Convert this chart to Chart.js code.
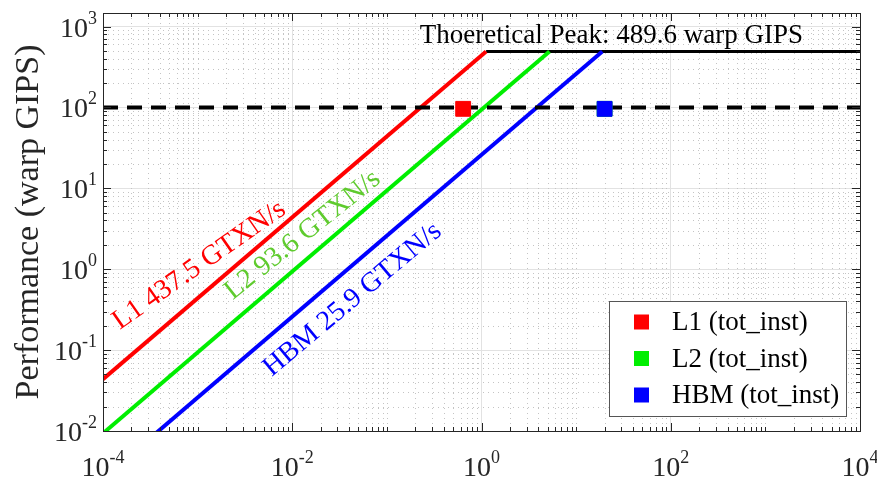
<!DOCTYPE html>
<html lang="en">
<head>
<meta charset="UTF-8" />
<title>Instruction Roofline</title>
<style>
  html, body { margin: 0; padding: 0; background: #fff; }
  #wrap { width: 877px; height: 484px; }
</style>
</head>
<body>
<div id="wrap"><canvas id="roofline" width="877" height="484"></canvas></div>
<script src="https://cdn.jsdelivr.net/npm/chart.js"></script>
<script>
// memory ceilings
const memLevels = ['L1', 'L2', 'HBM'];
const bandwidths = [437.5, 93.6, 25.9];          // GTXN/s
const roofColors = ['#ff0000', '#00ee00', '#0000ff'];
const labelColors = ['#ff0000', '#5fcb2e', '#0000ff'];
const peakGips = 489.6;
const refGips = 100;                               // dashed reference line

// measured kernel (tot_inst), L2 sits under the HBM marker
const pointIntensity = [0.64, 20, 20];
const pointGips = [96, 96, 96];

// axes
const xRange = [1e-4, 1e4];
const yRange = [1e-2, 1468.8];
const xTickVals = [1e-4, 1e-2, 1, 1e2, 1e4];
const yTickVals = [1e-2, 1e-1, 1, 1e1, 1e2, 1e3];

// annotation anchors (data coords) and text angles
const roofLabelAt = [[1.5e-4, 0.177], [2.35e-3, 0.414], [6.07e-3, 0.0465]];
const roofLabelAngle = [35, 38.5, 40];
const peakLabelAt = [0.223, 617];

const SERIF = "'Liberation Serif', 'Times New Roman', serif";
const INK = '#262626';

const datasets = [];
bandwidths.forEach((bw, i) => {
  datasets.push({
    label: memLevels[i] + ' roof',
    data: [{x: xRange[0], y: bw * xRange[0]}, {x: peakGips / bw, y: peakGips}],
    showLine: true, borderColor: roofColors[i], borderWidth: 4,
    pointRadius: 0, order: 3
  });
});
datasets.push({
  label: 'peak',
  data: [{x: peakGips / Math.max(...bandwidths), y: peakGips}, {x: xRange[1], y: peakGips}],
  showLine: true, borderColor: '#000', borderWidth: 3, pointRadius: 0, order: 3
});
datasets.push({
  label: 'ref',
  data: [{x: xRange[0], y: refGips}, {x: xRange[1], y: refGips}],
  showLine: true, borderColor: '#000', borderWidth: 4, borderDash: [15, 9],
  pointRadius: 0, order: 2
});
memLevels.forEach((m, i) => {
  datasets.push({
    label: m + ' (tot_inst)',
    data: [{x: pointIntensity[i], y: pointGips[i]}],
    showLine: false, pointStyle: 'rect', pointRadius: 10.5,
    backgroundColor: roofColors[i], borderColor: roofColors[i], borderWidth: 1,
    order: i === 1 ? 1 : 0
  });
});

function minorVals(range, majors) {
  const out = [];
  const lo = Math.floor(Math.log10(range[0])), hi = Math.ceil(Math.log10(range[1]));
  for (let d = lo; d <= hi; d++) {
    for (let k = 1; k <= 9; k++) {
      const v = k * Math.pow(10, d);
      if (v < range[0] * 0.999 || v > range[1] * 1.001) continue;
      if (majors.some(m => Math.abs(m - v) / m < 1e-6)) continue;
      out.push(v);
    }
  }
  return out;
}

function drawPow(ctx, exp, x, y, align) {
  // "10" with raised exponent
  const base = '10', sup = String(exp);
  ctx.font = '28px ' + SERIF;
  const wb = ctx.measureText(base).width;
  ctx.font = '18px ' + SERIF;
  const ws = ctx.measureText(sup).width;
  let left = align === 'right' ? x - wb - ws : x - (wb + ws) / 2;
  ctx.textAlign = 'left';
  ctx.textBaseline = 'alphabetic';
  ctx.font = '28px ' + SERIF;
  ctx.fillText(base, left, y);
  ctx.font = '18px ' + SERIF;
  ctx.fillText(sup, left + wb, y - 13);
}

const rooflinePlugin = {
  id: 'roofline',
  beforeDatasetsDraw(chart) {
    const {ctx, chartArea: a, scales: {x, y}} = chart;
    ctx.save();
    ctx.strokeStyle = '#c4c4c4';
    ctx.lineWidth = 1;
    ctx.setLineDash([1, 4]);
    minorVals(xRange, xTickVals).forEach(v => {
      const px = Math.round(x.getPixelForValue(v)) + 0.5;
      ctx.beginPath(); ctx.moveTo(px, a.top); ctx.lineTo(px, a.bottom); ctx.stroke();
    });
    minorVals(yRange, yTickVals).forEach(v => {
      const py = Math.round(y.getPixelForValue(v)) + 0.5;
      ctx.beginPath(); ctx.moveTo(a.left, py); ctx.lineTo(a.right, py); ctx.stroke();
    });
    ctx.restore();
  },
  afterDatasetsDraw(chart) {
    const {ctx, chartArea: a, scales: {x, y}} = chart;
    ctx.save();
    // box + inward ticks
    ctx.strokeStyle = INK;
    ctx.lineWidth = 1;
    ctx.strokeRect(Math.round(a.left) + 0.5, Math.round(a.top) + 0.5,
      Math.round(a.right - a.left), Math.round(a.bottom - a.top));
    const tick = (vals, len, horiz) => vals.forEach(v => {
      ctx.beginPath();
      if (horiz) {
        const px = Math.round(x.getPixelForValue(v)) + 0.5;
        ctx.moveTo(px, a.bottom); ctx.lineTo(px, a.bottom - len);
        ctx.moveTo(px, a.top); ctx.lineTo(px, a.top + len);
      } else {
        const py = Math.round(y.getPixelForValue(v)) + 0.5;
        ctx.moveTo(a.left, py); ctx.lineTo(a.left + len, py);
        ctx.moveTo(a.right, py); ctx.lineTo(a.right - len, py);
      }
      ctx.stroke();
    });
    tick(xTickVals, 8, true);
    tick(minorVals(xRange, xTickVals), 4, true);
    tick(yTickVals, 8, false);
    tick(minorVals(yRange, yTickVals), 4, false);

    // tick labels
    ctx.fillStyle = INK;
    xTickVals.forEach(v => drawPow(ctx, Math.round(Math.log10(v)), x.getPixelForValue(v), a.bottom + 45, 'center'));
    yTickVals.forEach(v => drawPow(ctx, Math.round(Math.log10(v)), a.left - 6, y.getPixelForValue(v) + 10, 'right'));

    // peak annotation
    ctx.fillStyle = '#000';
    ctx.font = '27px ' + SERIF;
    ctx.textAlign = 'left';
    ctx.textBaseline = 'alphabetic';
    ctx.fillText('Thoeretical Peak: ' + peakGips + ' warp GIPS',
      x.getPixelForValue(peakLabelAt[0]), y.getPixelForValue(peakLabelAt[1]));

    // ceiling labels
    ctx.font = '28px ' + SERIF;
    memLevels.forEach((m, i) => {
      ctx.save();
      ctx.translate(x.getPixelForValue(roofLabelAt[i][0]), y.getPixelForValue(roofLabelAt[i][1]));
      ctx.rotate(-roofLabelAngle[i] * Math.PI / 180);
      ctx.fillStyle = labelColors[i];
      ctx.fillText(m + ' ' + bandwidths[i] + ' GTXN/s', 0, 0);
      ctx.restore();
    });

    // legend
    const w = 237, h = 115;
    const lx = a.right - 14 - w, ly = a.bottom - 15 - h;
    ctx.fillStyle = '#fff';
    ctx.fillRect(lx, ly, w, h);
    ctx.strokeStyle = '#555';
    ctx.strokeRect(Math.round(lx) + 0.5, Math.round(ly) + 0.5, w, h);
    ctx.font = '27px ' + SERIF;
    ctx.textBaseline = 'middle';
    memLevels.forEach((m, i) => {
      const cy = ly + 21 + i * 36.5;
      ctx.fillStyle = roofColors[i];
      ctx.fillRect(lx + 25, cy - 7.5, 15, 15);
      ctx.fillStyle = '#000';
      ctx.fillText(m + ' (tot_inst)', lx + 63, cy + 1);
    });
    ctx.restore();
  }
};

new Chart(document.getElementById('roofline'), {
  type: 'scatter',
  data: {datasets},
  options: {
    responsive: false,
    animation: false,
    devicePixelRatio: 1,
    layout: {padding: {top: 13, right: 17, left: 0, bottom: 0}},
    plugins: {legend: {display: false}, tooltip: {enabled: false}},
    scales: {
      x: {
        type: 'logarithmic', min: xRange[0], max: xRange[1],
        afterBuildTicks: s => { s.ticks = xTickVals.map(v => ({value: v})); },
        afterFit: s => { s.height = 53; },
        ticks: {display: false},
        grid: {color: '#e2e2e2', lineWidth: 1, drawTicks: false},
        border: {display: false}
      },
      y: {
        type: 'logarithmic', min: yRange[0], max: yRange[1],
        afterBuildTicks: s => { s.ticks = yTickVals.map(v => ({value: v})); },
        afterFit: s => { s.width = 103; },
        ticks: {display: false},
        grid: {color: '#e2e2e2', lineWidth: 1, drawTicks: false},
        border: {display: false},
        title: {
          display: true, text: 'Performance (warp GIPS)', color: INK,
          font: {family: SERIF, size: 34}, padding: {top: 9, bottom: 0}
        }
      }
    }
  },
  plugins: [rooflinePlugin]
});
</script>
</body>
</html>
